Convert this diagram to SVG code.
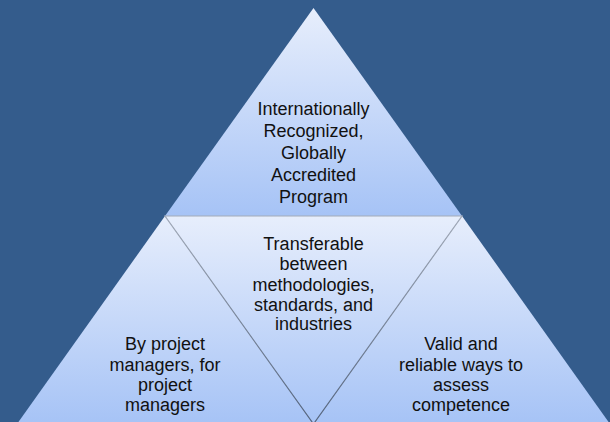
<svg xmlns="http://www.w3.org/2000/svg" width="610" height="422" viewBox="0 0 610 422">
  <defs>
    <linearGradient id="g" x1="0" y1="0" x2="0" y2="1">
      <stop offset="0" stop-color="#e7eefc"/>
      <stop offset="1" stop-color="#a6c3f6"/>
    </linearGradient>
    <linearGradient id="s" gradientUnits="userSpaceOnUse" x1="0" y1="216" x2="0" y2="424">
      <stop offset="0" stop-color="#a3abb9"/>
      <stop offset="1" stop-color="#56667f"/>
    </linearGradient>
  </defs>
  <style>
    .tri { fill: url(#g); }
    .mid { fill: url(#g); stroke: url(#s); stroke-width: 1.2; }
    text { font-family: "Liberation Sans", Arial, sans-serif; font-size: 18px; fill: #111; text-anchor: middle; }
  </style>
  <rect width="610" height="422" fill="#345c8c"/>
  <g id="top">
    <polygon class="tri" points="313.5,8 462,216 165,216"/>
    <text x="313.5" y="114.5">Internationally</text>
    <text x="313.5" y="136.5">Recognized,</text>
    <text x="313.5" y="158.5">Globally</text>
    <text x="313.5" y="180.5">Accredited</text>
    <text x="313.5" y="202.5">Program</text>
  </g>
  <g id="left">
    <polygon class="tri" points="165,216 313.5,424 17,424"/>
    <text x="165" y="349.5">By project</text>
    <text x="165" y="370.5">managers, for</text>
    <text x="165" y="390.5">project</text>
    <text x="165" y="410.5">managers</text>
  </g>
  <g id="right">
    <polygon class="tri" points="462,216 610,424 313.5,424"/>
    <text x="461" y="349.5">Valid and</text>
    <text x="461" y="370.5">reliable ways to</text>
    <text x="461" y="390.5">assess</text>
    <text x="461" y="410.5">competence</text>
  </g>
  <g id="middle">
    <polygon class="mid" points="165,216 462,216 313.5,424"/>
    <text x="313.5" y="249.5">Transferable</text>
    <text x="313.5" y="270">between</text>
    <text x="313.5" y="290.5">methodologies,</text>
    <text x="313.5" y="311">standards, and</text>
    <text x="313.5" y="329.5">industries</text>
  </g>
  <g id="connectors"></g>
</svg>
